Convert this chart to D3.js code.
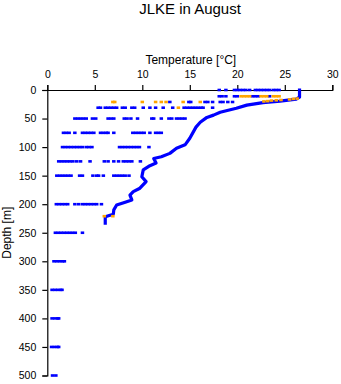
<!DOCTYPE html>
<html>
<head>
<meta charset="utf-8">
<script src="https://cdn.jsdelivr.net/npm/d3@7"></script>
<style>
  html, body { margin: 0; padding: 0; background: #fff; }
  svg { display: block; font-family: "Liberation Sans", Arial, sans-serif; }
</style>
</head>
<body>
<svg id="chart" width="341" height="384"></svg>
<script>
const titleText = "JLKE in August";
const xLabel = "Temperature [°C]";
const yLabel = "Depth [m]";
const xTicks = [0, 5, 10, 15, 20, 25, 30];
const yTicks = [0, 50, 100, 150, 200, 250, 300, 350, 400, 450, 500];

// discrete sampling depths (m)
const depthRows = [0, 11, 21, 31, 50, 75, 100, 125, 150, 200, 250, 300, 350, 400, 450, 500];
// temperatures (°C) of blue samples at each depth row
const blueRowTemps = [
  [18.1, 18.8, 19.7, 20.0, 20.3, 20.6, 20.9, 21.3, 21.9, 22.2, 22.5, 22.8, 23.1, 23.4, 23.8, 24.1, 24.4],
  [18.1, 18.4, 18.8, 19.7, 20.0, 21.6, 21.9, 22.2, 23.4],
  [12.9, 14.9, 15.1, 16.6, 16.9, 17.4, 18.2, 18.5, 19.0, 19.5],
  [5.35, 5.6, 6.1, 6.4, 6.7, 7.0, 7.3, 7.9, 8.2, 8.9, 9.2, 10.1, 10.8, 11.4, 12.2, 13.2, 14.4, 14.7, 15.0, 15.3, 15.6, 15.9, 16.2, 16.4, 17.4],
  [2.9, 3.2, 3.5, 3.8, 4.1, 4.75, 5.1, 6.4, 6.7, 7.0, 8.1, 8.4, 8.8, 9.5, 11.0, 11.2, 12.0, 12.8, 13.1, 13.6, 13.9, 14.2, 14.5],
  [1.7, 2.0, 2.3, 2.9, 3.7, 4.0, 4.3, 4.6, 4.9, 5.6, 5.9, 6.2, 6.4, 7.0, 9.0, 9.3, 9.6, 9.9, 10.2, 10.8, 11.4, 11.7, 12.0],
  [1.6, 1.9, 2.2, 2.5, 2.8, 3.1, 3.4, 3.7, 4.1, 4.4, 4.7, 7.6, 7.9, 8.2, 8.5, 8.8, 9.1, 9.4, 9.7, 10.7],
  [1.2, 1.5, 1.8, 2.1, 2.4, 2.7, 3.1, 3.5, 4.5, 6.0, 6.4, 7.0, 7.5, 8.0, 8.3, 8.6, 8.9, 9.8],
  [1.0, 1.3, 1.6, 1.9, 2.2, 2.5, 3.4, 3.7, 4.8, 5.2, 5.4, 5.9, 7.0, 7.3, 7.6, 7.9, 8.2, 8.6],
  [0.95, 1.25, 1.55, 1.85, 2.15, 2.9, 3.3, 3.7, 4.0, 4.3, 4.6, 4.9, 5.2, 5.7],
  [0.85, 1.15, 1.45, 1.75, 2.05, 2.35, 2.65, 2.95, 3.7],
  [0.7, 1.0, 1.3, 1.6, 1.8],
  [0.5, 0.8, 1.1, 1.4, 1.55],
  [0.5, 0.8, 1.1, 1.2],
  [0.45, 0.75, 1.05, 1.2],
  [0.55, 0.9]
];
// temperatures (°C) of orange samples at each depth row
const orangeRowTemps = [
  [],
  [20.4, 20.7, 21.0, 21.3, 22.5, 22.8, 23.1, 23.8, 24.1, 24.4],
  [6.9, 7.1, 10.0, 11.4, 12.0, 12.5, 14.3, 16.1],
  [13.8],
  [], [], [], [], [], [], [], [], [], [], [], []
];

// continuous profile (blue)
const profileTemp  = [26.55, 26.55, 26.2, 24.5, 22.7, 21.0, 19.9, 18.2, 17.5, 16.8, 16.1, 15.65, 15.0, 14.5, 13.6, 12.9, 12.0, 11.2, 11.45, 10.8, 10.1, 9.95, 10.4, 9.75, 9.05, 8.7, 8.9, 8.2, 7.3, 7.0, 6.95, 6.1, 6.1];
const profileDepth = [0, 12.5, 16, 19.5, 22, 26.5, 32, 39, 44, 48, 56.5, 65, 84.5, 96, 102, 111, 117, 120, 128, 132.5, 140, 152, 160.5, 172, 178, 184, 192.5, 196.5, 201.5, 210, 217.5, 222, 233];
// orange profile samples
const profOrangeTemp  = [26.3, 25.9, 25.5, 24.6, 24.1, 23.6, 23.2, 22.8, 6.0, 6.9];
const profOrangeDepth = [15, 15.5, 16.5, 17.5, 18, 18.5, 19.5, 20, 221, 221];

const blue = "#0000ff";
const orange = "#ffa500";

const svg = d3.select("#chart");
const x = d3.scaleLinear().domain([0, 30]).range([47.3, 332.3]);
const y = d3.scaleLinear().domain([0, 500]).range([90, 375.5]);

// title
svg.append("text").attr("x", 190).attr("y", 13.5).attr("text-anchor", "middle")
  .attr("font-size", 15).attr("fill", "#000").text(titleText);
svg.append("text").attr("x", x(15) + 1).attr("y", 64).attr("text-anchor", "middle")
  .attr("font-size", 12).attr("fill", "#000").text(xLabel);
svg.append("text").attr("transform", `translate(10.5,${(y(0) + y(500)) / 2}) rotate(-90)`)
  .attr("text-anchor", "middle").attr("font-size", 12).attr("fill", "#000").text(yLabel);

// axes
const xAxis = d3.axisTop(x).tickValues(xTicks).tickFormat(d3.format("d")).tickSize(5).tickPadding(7);
const gx = svg.append("g").attr("transform", `translate(0,${y(0)})`).call(xAxis);
const yAxis = d3.axisLeft(y).tickValues(yTicks).tickFormat(d3.format("d")).tickSize(5).tickPadding(6);
const gy = svg.append("g").attr("transform", `translate(${x(0)},0)`).call(yAxis);
[gx, gy].forEach(g => {
  g.selectAll("path.domain").attr("stroke", "#000").attr("stroke-width", 1.2);
  g.selectAll(".tick line").attr("stroke", "#000").attr("stroke-width", 1.2);
  g.selectAll(".tick text").attr("font-size", 10.5).attr("fill", "#000")
    .attr("font-family", "'Liberation Sans', Arial, sans-serif");
});

// discrete samples
const W = 3.5, H = 2.6;
function drawRows(rows, color) {
  rows.forEach((temps, i) => {
    svg.append("g").selectAll("rect").data(temps).join("rect")
      .attr("x", t => x(t) - W / 2)
      .attr("y", y(depthRows[i]) - H / 2)
      .attr("width", W).attr("height", H)
      .attr("fill", color);
  });
}
drawRows(blueRowTemps, blue);

// profile line
const profile = profileTemp.map((t, i) => [t, profileDepth[i]]);
svg.append("path").datum(profile)
  .attr("d", d3.line().x(d => x(d[0])).y(d => y(d[1])))
  .attr("fill", "none").attr("stroke", blue).attr("stroke-width", 3.2)
  .attr("stroke-linejoin", "round").attr("stroke-linecap", "square");

drawRows(orangeRowTemps, orange);
svg.append("g").selectAll("rect").data(profOrangeTemp).join("rect")
  .attr("x", (t) => x(t) - W / 2)
  .attr("y", (t, i) => y(profOrangeDepth[i]) - H / 2)
  .attr("width", W).attr("height", H).attr("fill", orange);
</script>
</body>
</html>
